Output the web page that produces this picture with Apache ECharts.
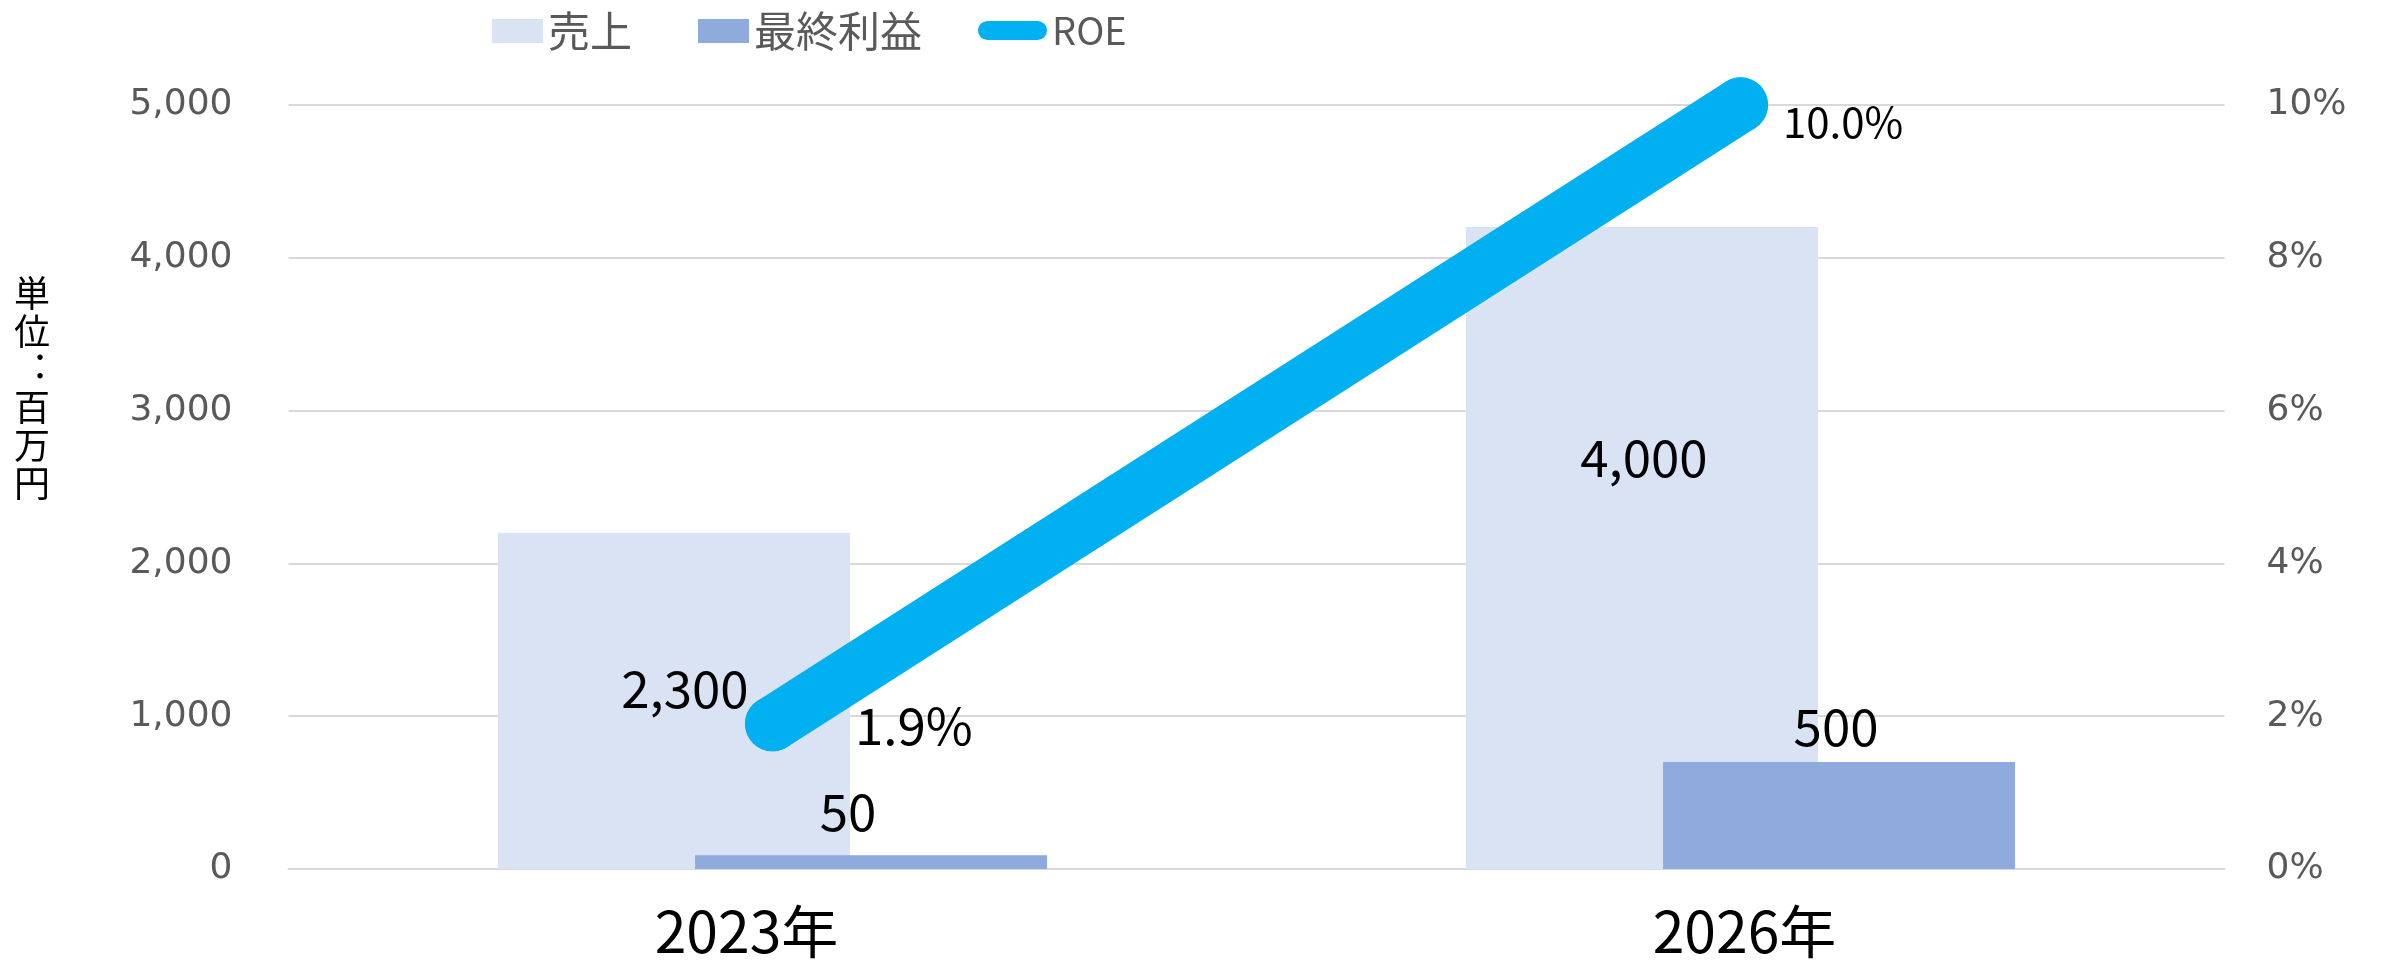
<!DOCTYPE html>
<html>
<head>
<meta charset="utf-8">
<script src="https://cdn.jsdelivr.net/npm/echarts@6/dist/echarts.min.js"></script>
<style>
  html, body { margin: 0; padding: 0; background: #fff; }
  #myChart { width: 2381px; height: 960px; }
</style>
</head>
<body>
<div id="myChart"></div>
<script>
// data
var years = ['2023年', '2026年'];
var sales = [2200, 4200];          // bar heights as drawn
var salesLabels = ['2,300', '4,000'];
var profit = [90, 700];
var profitLabels = ['50', '500'];
var roe = [1.9, 10.0];
var leftTicks = [0, 5000, 1000];   // min, max, interval
var rightTicks = [0, 10, 2];

var jp = '"Noto Sans CJK JP", "Noto Sans", sans-serif';
var axisFont = '"DejaVu Sans", Verdana, sans-serif';

// per-item label tweaks (offsets in px)
var yearPadding = [[0, 52, 0, 0], [0, 0, 0, 8]];
var salesOffsets = [[11, -12], [2, -90]];
var profitOffsets = [[-23, -13], [-3, -5]];
var roeLabelStyle = [
  { distance: 55, offset: [0, 2], fontSize: 51 },
  { distance: 15, offset: [0, 17], fontSize: 42 }
];

let myChart = echarts.init(document.getElementById('myChart'));

myChart.setOption({
  animation: false,
  backgroundColor: '#fff',
  textStyle: { fontFamily: jp },
  legend: [{
    data: ['売上', '最終利益'],
    left: 492,
    top: 10,
    padding: 0,
    icon: 'rect',
    itemWidth: 51,
    itemHeight: 24,
    itemGap: 66,
    textStyle: { fontSize: 42, color: '#595959', fontFamily: jp }
  }, {
    data: [{
      name: 'ROE',
      icon: 'path://M9.5,0 H59.5 A9.5,9.5 0 0 1 59.5,19 H9.5 A9.5,9.5 0 0 1 9.5,0 Z'
    }],
    left: 978,
    top: 11.5,
    padding: 0,
    itemWidth: 69,
    itemHeight: 19,
    textStyle: { fontSize: 38, color: '#595959', fontFamily: jp }
  }],
  grid: {
    left: 288.5,
    right: 156.5,
    top: 104.8,
    bottom: 90
  },
  xAxis: {
    type: 'category',
    data: years.map(function (y, i) {
      return { value: y, textStyle: { padding: yearPadding[i] } };
    }),
    axisTick: { show: false },
    axisLine: { lineStyle: { color: '#d9d9d9', width: 2 } },
    axisLabel: { color: '#000', fontSize: 57, fontFamily: jp, margin: 34 }
  },
  yAxis: [{
    type: 'value',
    min: leftTicks[0],
    max: leftTicks[1],
    interval: leftTicks[2],
    axisLine: { show: false },
    axisTick: { show: false },
    splitLine: { lineStyle: { color: '#d9d9d9', width: 2 } },
    axisLabel: {
      color: '#595959',
      fontSize: 36,
      fontFamily: axisFont,
      margin: 56,
      formatter: function (v) { return v.toLocaleString('en-US'); }
    }
  }, {
    type: 'value',
    min: rightTicks[0],
    max: rightTicks[1],
    interval: rightTicks[2],
    axisLine: { show: false },
    axisTick: { show: false },
    splitLine: { show: false },
    axisLabel: {
      color: '#595959',
      fontSize: 36,
      fontFamily: axisFont,
      margin: 42,
      formatter: '{value}%'
    }
  }],
  graphic: [{
    type: 'text',
    left: 14,
    top: 274,
    style: {
      text: '単\n位\n︓\n百\n万\n円',
      font: '36px ' + jp,
      lineHeight: 38,
      fill: '#000',
      align: 'center'
    }
  }],
  series: [{
    name: '売上',
    type: 'bar',
    barWidth: 352,
    barGap: '-44%',
    itemStyle: { color: '#dae3f3' },
    data: sales.map(function (v, i) {
      return {
        value: v,
        label: {
          show: true,
          position: 'inside',
          offset: salesOffsets[i],
          formatter: salesLabels[i],
          color: '#000',
          fontSize: 51,
          fontFamily: jp
        }
      };
    })
  }, {
    name: '最終利益',
    type: 'bar',
    barWidth: 352,
    itemStyle: { color: '#8faadc' },
    data: profit.map(function (v, i) {
      return {
        value: v,
        label: {
          show: true,
          position: 'top',
          offset: profitOffsets[i],
          formatter: profitLabels[i],
          color: '#000',
          fontSize: 51,
          fontFamily: jp
        }
      };
    })
  }, {
    name: 'ROE',
    type: 'line',
    yAxisIndex: 1,
    symbol: 'circle',
    symbolSize: 55,
    itemStyle: { color: '#00b0f0' },
    lineStyle: { color: '#00b0f0', width: 55, cap: 'round' },
    z: 5,
    data: roe.map(function (v, i) {
      return {
        value: v,
        label: {
          show: true,
          position: 'right',
          distance: roeLabelStyle[i].distance,
          offset: roeLabelStyle[i].offset,
          fontSize: roeLabelStyle[i].fontSize,
          color: '#000',
          fontFamily: jp,
          formatter: function (p) { return p.value.toFixed(1) + '%'; }
        }
      };
    })
  }]
});
</script>
</body>
</html>
